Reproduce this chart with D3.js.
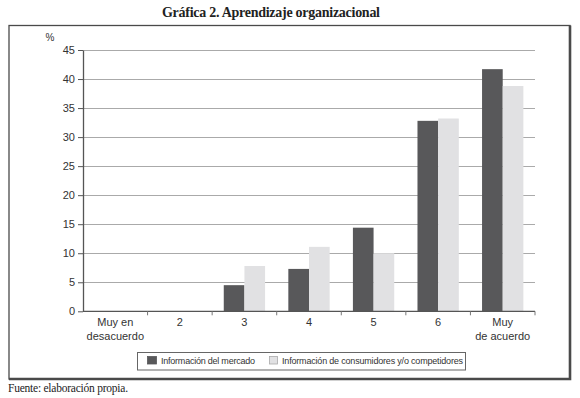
<!DOCTYPE html>
<html>
<head>
<meta charset="utf-8">
<script src="https://cdn.jsdelivr.net/npm/d3@7"></script>
<style>
  body { margin: 0; background: #fff; }
  svg { display: block; }
</style>
</head>
<body>
<div id="chart"></div>
<script>
const categories = ["Muy en\ndesacuerdo", "2", "3", "4", "5", "6", "Muy\nde acuerdo"];
const seriesNames = ["Información del mercado", "Información de consumidores y/o competidores"];
const mercado = [0, 0, 4.5, 7.3, 14.4, 32.8, 41.7];
const consumidores = [0, 0, 7.8, 11.1, 10.0, 33.2, 38.8];
const yTicks = [0, 5, 10, 15, 20, 25, 30, 35, 40, 45];

const width = 580;
const height = 398;
const margin = { left: 83, right: 45, top: 50, bottom: 86 };
const colors = ["#58585a", "#e1e1e3"];
const sansFont = "Liberation Sans, Arial, sans-serif";
const serifFont = "Liberation Serif, Times New Roman, serif";

const svg = d3.select("#chart").append("svg")
  .attr("width", width)
  .attr("height", height);

svg.append("text")
  .attr("x", 271)
  .attr("y", 17)
  .attr("text-anchor", "middle")
  .attr("textLength", 218)
  .style("font-family", serifFont)
  .style("font-weight", "bold")
  .style("font-size", "14px")
  .style("fill", "#222")
  .text("Gráfica 2. Aprendizaje organizacional");

// frame
svg.append("rect")
  .attr("x", 9).attr("y", 25.5).attr("width", 561).attr("height", 353.5)
  .style("fill", "none").style("stroke", "#4a4a4a").attr("stroke-width", 1.3);
svg.append("path")
  .attr("d", "M570,25.5 V379 H9")
  .style("fill", "none").style("stroke", "#4a4a4a").attr("stroke-width", 2.6);

const x0 = d3.scaleBand()
  .domain(categories)
  .range([margin.left, width - margin.right])
  .paddingInner(0.36)
  .paddingOuter(0.18);
const x1 = d3.scaleBand()
  .domain([0, 1])
  .range([0, x0.bandwidth()]);
const y = d3.scaleLinear()
  .domain([0, 45])
  .range([height - margin.bottom - 0.7, margin.top]);

// gridlines
svg.append("g")
  .selectAll("line")
  .data(yTicks.filter(d => d > 0))
  .join("line")
  .attr("x1", margin.left).attr("x2", width - margin.right)
  .attr("y1", d => Math.round(y(d)) + 0.5).attr("y2", d => Math.round(y(d)) + 0.5)
  .style("stroke", "#aaaaaa").attr("stroke-width", 1);

// bars
const groups = svg.append("g")
  .selectAll("g")
  .data(categories)
  .join("g")
  .attr("transform", d => `translate(${x0(d)},0)`);
[mercado, consumidores].forEach((vals, s) => {
  groups.append("rect")
    .attr("x", x1(s))
    .attr("width", x1.bandwidth())
    .attr("y", (d, i) => y(vals[i]))
    .attr("height", (d, i) => y(0) - y(vals[i]))
    .style("fill", colors[s]);
});

// y axis
const yAxis = svg.append("g")
  .attr("transform", `translate(${margin.left},0)`)
  .call(d3.axisLeft(y).tickValues(yTicks).tickSize(5).tickPadding(3).tickSizeOuter(0));
yAxis.select(".domain").style("stroke", "#555").attr("stroke-width", 1.3);
yAxis.selectAll(".tick line").style("stroke", "#555");
yAxis.selectAll(".tick text")
  .style("font-family", sansFont).style("font-size", "11px").style("fill", "#333");

svg.append("text")
  .attr("x", 50).attr("y", 41)
  .attr("text-anchor", "middle")
  .style("font-family", sansFont).style("font-size", "10px").style("fill", "#333")
  .text("%");

// x axis
const bottomY = y(0);
svg.append("line")
  .attr("x1", margin.left).attr("x2", width - margin.right)
  .attr("y1", bottomY).attr("y2", bottomY)
  .style("stroke", "#555").attr("stroke-width", 1.3);
const step = x0.step();
svg.append("g")
  .selectAll("line")
  .data(categories)
  .join("line")
  .attr("x1", d => x0(d) - x0.paddingInner() * step / 2 + step)
  .attr("x2", d => x0(d) - x0.paddingInner() * step / 2 + step)
  .attr("y1", bottomY).attr("y2", bottomY + 4)
  .style("stroke", "#777");

const xLabels = svg.append("g")
  .selectAll("text")
  .data(categories)
  .join("text")
  .attr("x", d => x0(d) + x0.bandwidth() / 2)
  .attr("y", bottomY + 15)
  .attr("text-anchor", "middle")
  .style("font-family", sansFont).style("font-size", "11px").style("fill", "#333");
xLabels.each(function(d) {
  const t = d3.select(this);
  d.split("\n").forEach((line, i) => {
    t.append("tspan")
      .attr("x", t.attr("x"))
      .attr("dy", i === 0 ? 0 : 13.5)
      .text(line);
  });
});

// legend
svg.append("rect")
  .attr("x", 137.5).attr("y", 352.5).attr("width", 328).attr("height", 17.5)
  .style("fill", "#fff").style("stroke", "#666").attr("stroke-width", 1);
const swatchX = [147.5, 269.5];
const textX = [161, 282];
const legendTextW = [94, 181];
seriesNames.forEach((name, i) => {
  svg.append("rect")
    .attr("x", swatchX[i]).attr("y", 356.5).attr("width", i === 0 ? 9 : 8).attr("height", 7.5)
    .style("fill", colors[i]).style("stroke", i === 0 ? colors[0] : "#aaa").attr("stroke-width", 0.8);
  svg.append("text")
    .attr("x", textX[i]).attr("y", 364)
    .attr("textLength", legendTextW[i])
    .style("font-family", sansFont).style("font-size", "9px").style("fill", "#333")
    .text(name);
});

svg.append("text")
  .attr("x", 8).attr("y", 392)
  .attr("textLength", 120)
  .style("font-family", serifFont).style("font-size", "11.5px").style("fill", "#222")
  .text("Fuente: elaboración propia.");
</script>
</body>
</html>
